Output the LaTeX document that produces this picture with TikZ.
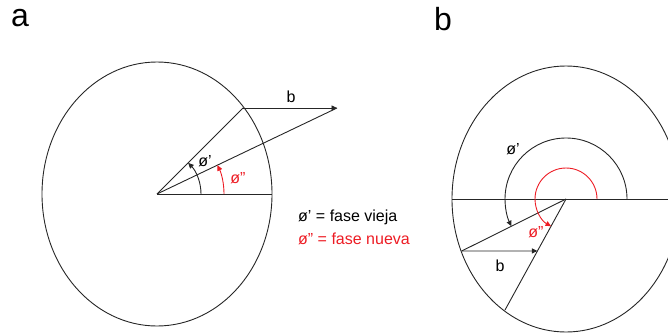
\documentclass[tikz,border=0pt]{standalone}
\usepackage{fontspec}
\setmainfont{Liberation Sans}
\usetikzlibrary{arrows.meta,calc}
\definecolor{pred}{RGB}{237,28,36}
\begin{document}
\begin{tikzpicture}[x=1pt,y=1pt,
  ln/.style={line width=0.9pt, draw=black!85},
  tip/.style={-{Triangle[length=5.5pt,width=5pt]}},
  lab/.style={font=\fontsize{16}{19}\selectfont, inner sep=0pt},
  big/.style={font=\fontsize{32}{36}\selectfont, inner sep=0pt}]
\useasboundingbox (0,0) rectangle (668,333);
\clip (0,0) rectangle (668,333);
% ---------- panel a ----------
\node[big] (la) at (20,315) {a};
\coordinate (A) at (157,139);
\coordinate (P1) at (243,225);
\coordinate (T) at (337,225);
\coordinate (E) at (272,139);
\draw[ln] (A) ellipse [x radius=115, y radius=132];
\draw[ln] (A) -- (E);
\draw[ln] (A) -- (P1);
\draw[ln] (A) -- (T);
\draw[ln,tip] (P1) -- (T);
\node[lab] (bA) at (291,236) {b};
\draw[ln,tip] ($(A)+(44,0)$) arc[start angle=0,end angle=45,radius=44];
\draw[ln,draw=pred,tip] ($(A)+(67,0)$) arc[start angle=0,end angle=25.5,radius=67];
\node[lab] (phiA) at (205,172) {ø'};
\node[lab,text=pred] (phiAn) at (238,155) {ø''};
\node[lab,anchor=west] (leg1) at (298,116) {ø' = fase vieja};
\node[lab,anchor=west,text=pred] (leg2) at (298,94) {ø'' = fase nueva};
% ---------- panel b ----------
\node[big] (lb) at (443,314) {b};
\coordinate (B) at (566,134);
\coordinate (L) at (452,134);
\coordinate (R) at (668,134);
\coordinate (Q1) at (461.7,82);
\coordinate (Q3) at (505,23);
\coordinate (Q2) at ($(B)!0.468!(Q3)$);
\draw[ln] (B) ellipse [x radius=114, y radius=133];
\draw[ln] (L) -- (R);
\draw[ln] (B) -- (Q1);
\draw[ln] (B) -- (Q3);
\draw[ln,tip] (Q1) -- (Q2);
\node[lab] (bB) at (500,67) {b};
\draw[ln,tip] ($(B)+(61,0)$) arc[start angle=0,end angle=206.5,radius=61];
\draw[ln,draw=pred,tip] ($(B)+(31,0)$) arc[start angle=0,end angle=241.2,radius=31];
\node[lab] (phiB) at (513,184) {ø'};
\node[lab,text=pred] (phiBn) at (536,101) {ø''};
\end{tikzpicture}
\end{document}
